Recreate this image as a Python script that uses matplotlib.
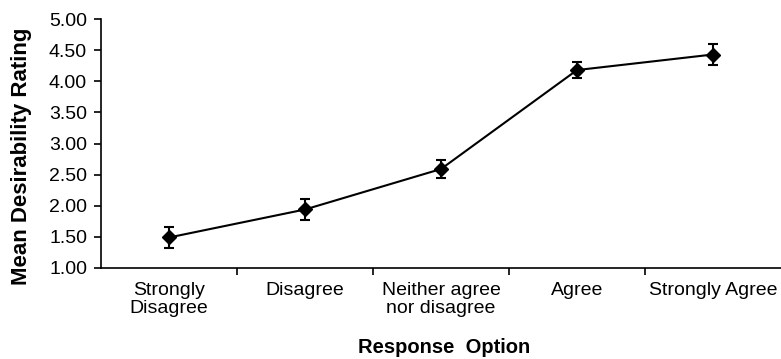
import matplotlib
matplotlib.use("Agg")
import matplotlib.pyplot as plt
import numpy as np

plt.rcParams['font.family'] = ['Liberation Sans', 'DejaVu Sans']

# mean desirability per response option, with error bar half-widths
options = ["Strongly\nDisagree", "Disagree", "Neither agree\nnor disagree",
           "Agree", "Strongly Agree"]
means = [1.49, 1.94, 2.59, 4.18, 4.43]
errors = [0.17, 0.17, 0.15, 0.13, 0.17]
yticks = [1.00, 1.50, 2.00, 2.50, 3.00, 3.50, 4.00, 4.50, 5.00]

fig = plt.figure(figsize=(7.81, 3.59), dpi=100)
ax = fig.add_axes([0.1293, 0.2535, 0.8707, 0.6935])

x = np.arange(len(options))
ax.errorbar(x, means, yerr=errors, color='black', lw=1.5, marker='D',
            ms=7, capsize=3.5, capthick=1.5, elinewidth=1.5)

ax.set_xlim(-0.5, len(options) - 0.5)
ax.set_ylim(1.0, 5.0)
ax.set_yticks(yticks)
ax.set_yticklabels([f"{v:.2f}" for v in yticks], fontsize=14)

# category boundaries carry the tick marks, labels sit at the centres
ax.set_xticks(np.arange(0.5, len(options) - 0.5, 1.0))
ax.set_xticklabels([])
ax.set_xticks(x, minor=True)
ax.set_xticklabels(options, minor=True, fontsize=14, linespacing=1.08)
ax.tick_params(axis='x', which='minor', length=0, pad=10)
ax.tick_params(axis='x', which='major', length=5, width=1.2, direction='out')
ax.tick_params(axis='y', length=5, width=1.2, direction='out', pad=5)

for side in ['top', 'right']:
    ax.spines[side].set_visible(False)
for side in ['left', 'bottom']:
    ax.spines[side].set_linewidth(1.2)

ax.set_xlabel("Response  Option", fontsize=14.5, fontweight='bold')
ax.xaxis.set_label_coords(0.505, -0.283)
ax.set_ylabel("Mean Desirability Rating", fontsize=16, fontweight='bold')
ax.yaxis.set_label_coords(-0.101, 0.45)

fig.savefig("out.png", dpi=100)
